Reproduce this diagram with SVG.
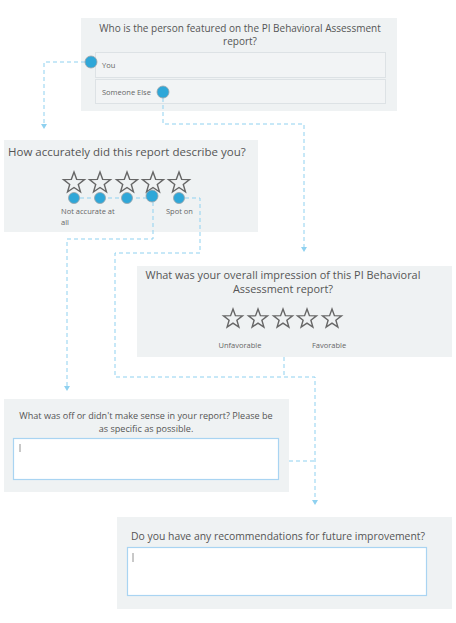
<svg xmlns="http://www.w3.org/2000/svg" width="456" height="623" viewBox="0 0 456 623">
<style>
.box{fill:#eff2f3}
.opt{fill:#f2f4f5;stroke:#dde2e5;stroke-width:1}
.t{font-family:"Open Sans","Noto Sans",sans-serif;fill:#555}
.s{font-family:"Open Sans","Noto Sans",sans-serif;fill:#666;font-size:7.5px}
.ta{fill:#fff;stroke:#a9d4f2;stroke-width:1.2}
.cur{stroke:#777;stroke-width:0.8}
.dot{fill:#2fa7d8;stroke:#9aa3a8;stroke-width:0.8}
.star{fill:none;stroke:#666;stroke-width:1.4;stroke-linejoin:miter}
.c{fill:none;stroke:#8fd1f0;stroke-width:1;stroke-dasharray:4,3}
.ah{fill:#8fd1f0}
</style>
<defs>
<path id="star" d="M0,-11 L2.65,-3.64 L10.46,-3.4 L4.28,1.39 L6.47,8.9 L0,4.5 L-6.47,8.9 L-4.28,1.39 L-10.46,-3.4 L-2.65,-3.64 Z"/>
<path id="star2" d="M0,-10 L2.41,-3.31 L9.51,-3.09 L3.89,1.26 L5.88,8.09 L0,4.09 L-5.88,8.09 L-3.89,1.26 L-9.51,-3.09 L-2.41,-3.31 Z"/>
</defs>
<rect width="456" height="623" fill="#fff"/>

<g id="q1">
<rect class="box" x="81" y="18" width="316" height="93"/>
<text class="t" font-size="10" text-anchor="middle" x="240" y="32">Who is the person featured on the PI Behavioral Assessment</text>
<text class="t" font-size="10" text-anchor="middle" x="240" y="45">report?</text>
<rect class="opt" x="95.5" y="52.5" width="290" height="25"/>
<rect class="opt" x="95.5" y="79.5" width="290" height="24"/>
<text class="s" x="102" y="68">You</text>
<text class="s" x="102" y="95">Someone Else</text>
</g>

<g id="q2">
<rect class="box" x="4" y="140" width="254" height="92"/>
<text class="t" font-size="11.5" x="8" y="156">How accurately did this report describe you?</text>
<use href="#star" class="star" x="74" y="183"/>
<use href="#star" class="star" x="100" y="183"/>
<use href="#star" class="star" x="127" y="183"/>
<use href="#star" class="star" x="153" y="183"/>
<use href="#star" class="star" x="179" y="183"/>
<text class="s" x="61" y="214">Not accurate at</text>
<text class="s" x="61" y="225">all</text>
<text class="s" x="166" y="214">Spot on</text>
</g>

<g id="q3">
<rect class="box" x="137" y="266" width="315" height="91"/>
<text class="t" font-size="10.9" text-anchor="middle" x="283" y="279">What was your overall impression of this PI Behavioral</text>
<text class="t" font-size="10.9" text-anchor="middle" x="283" y="293">Assessment report?</text>
<use href="#star2" class="star" x="233" y="319"/>
<use href="#star2" class="star" x="258" y="319"/>
<use href="#star2" class="star" x="283" y="319"/>
<use href="#star2" class="star" x="307" y="319"/>
<use href="#star2" class="star" x="332" y="319"/>
<text class="s" text-anchor="middle" x="240" y="348">Unfavorable</text>
<text class="s" text-anchor="middle" x="329" y="348">Favorable</text>
</g>

<g id="q4">
<rect class="box" x="4" y="399" width="285" height="93"/>
<text class="t" font-size="9.1" text-anchor="middle" x="146" y="419">What was off or didn't make sense in your report? Please be</text>
<text class="t" font-size="9.1" text-anchor="middle" x="146" y="432">as specific as possible.</text>
<rect class="ta" x="13.5" y="438.5" width="265" height="41"/>
<line class="cur" x1="20" y1="444" x2="20" y2="452"/>
</g>

<g id="q5">
<rect class="box" x="117" y="517" width="335" height="92"/>
<text class="t" font-size="10.4" x="131" y="540">Do you have any recommendations for future improvement?</text>
<rect class="ta" x="127.5" y="547.5" width="299" height="48"/>
<line class="cur" x1="133" y1="553" x2="133" y2="562"/>
</g>

<g id="connectors">
<path class="c" d="M85,62 H44 V125"/>
<path class="c" d="M163,98 V124 H304 V248"/>
<path class="c" d="M80,198 H147"/>
<path class="c" d="M153,202 V239 H67 V387"/>
<path class="c" d="M185,198 H200 V253 H115 V377 H315 V501"/>
<path class="c" d="M284,357 V377"/>
<path class="c" d="M289,461 H315"/>
<path class="ah" d="M41,124 L47,124 L44,129 Z"/>
<path class="ah" d="M301,247 L307,247 L304,252 Z"/>
<path class="ah" d="M64,386 L70,386 L67,391 Z"/>
<path class="ah" d="M312,500 L318,500 L315,505 Z"/>
</g>

<g id="ports">
<circle class="dot" cx="91" cy="62" r="6"/>
<circle class="dot" cx="163" cy="92" r="6"/>
<circle class="dot" cx="74" cy="198" r="5.5"/>
<circle class="dot" cx="100" cy="198" r="5.5"/>
<circle class="dot" cx="127" cy="198" r="5.5"/>
<circle class="dot" cx="152" cy="196" r="6"/>
<circle class="dot" cx="179" cy="198" r="5.5"/>
</g>
</svg>
